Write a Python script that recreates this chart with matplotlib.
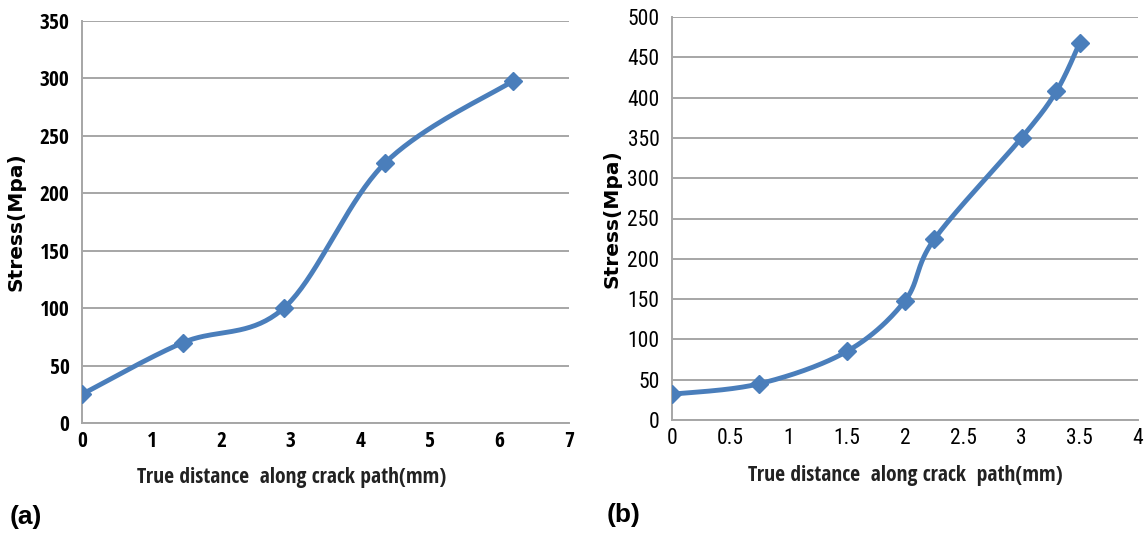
import numpy as np
import matplotlib
matplotlib.use("Agg")
import matplotlib.pyplot as plt

# Panel (a)
dist_a = [0.0, 1.45, 2.9, 4.35, 6.2]
stress_a = [25, 70, 100, 226, 298]
xticks_a = [0, 1, 2, 3, 4, 5, 6, 7]
yticks_a = [0, 50, 100, 150, 200, 250, 300, 350]

# Panel (b)
dist_b = [0.0, 0.75, 1.5, 2.0, 2.25, 3.0, 3.3, 3.5]
stress_b = [32, 45, 85, 148, 224, 350, 408, 468]
xticks_b = [0, 0.5, 1, 1.5, 2, 2.5, 3, 3.5, 4]
yticks_b = [0, 50, 100, 150, 200, 250, 300, 350, 400, 450, 500]

LINE = "#4A7EBB"
GRID = "#A6A6A6"
TICK_A = dict(fontfamily="Open Sans Condensed", fontweight="bold", fontsize=15.5)
TICK_B = dict(fontfamily="Roboto Condensed", fontweight="normal", fontsize=15.5)
XLAB = dict(fontfamily="Open Sans Condensed", fontweight="bold", fontsize=15.5, color="#222222")
YLAB = dict(fontfamily="DejaVu Sans", fontweight="bold", fontsize=14.5)


def smooth(x, y, n=40):
    """Cubic Bezier smoothing through every point (spreadsheet-style)."""
    p = np.column_stack([x, y]).astype(float)
    pts = [p[0]]
    for i in range(len(p) - 1):
        p0 = p[i - 1] if i > 0 else p[i]
        p1, p2 = p[i], p[i + 1]
        p3 = p[i + 2] if i + 2 < len(p) else p[i + 1]
        c1 = p1 + (p2 - p0) / 6.0
        c2 = p2 - (p3 - p1) / 6.0
        t = np.linspace(0, 1, n)[1:, None]
        seg = ((1 - t) ** 3) * p1 + 3 * ((1 - t) ** 2) * t * c1 + 3 * (1 - t) * t ** 2 * c2 + t ** 3 * p2
        pts.extend(seg)
    pts = np.array(pts)
    return pts[:, 0], pts[:, 1]


def panel(ax, xs, ys, xt, yt, tickfont, xlabel, xlab_pos, ylab_pos):
    sx, sy = smooth(xs, ys)
    ax.plot(sx, sy, color=LINE, lw=3.5, solid_capstyle="round", zorder=3)
    ax.plot(xs, ys, ls="none", marker="D", ms=9, color=LINE, zorder=4)
    ax.set_xlim(xt[0], xt[-1])
    ax.set_ylim(yt[0], yt[-1])
    ax.set_xticks(xt)
    ax.set_yticks(yt)
    ax.set_xticklabels([f"{v:g}" for v in xt], **tickfont)
    ax.set_yticklabels([f"{v:g}" for v in yt], **tickfont)
    ax.tick_params(axis="x", length=0, pad=6)
    ax.tick_params(axis="y", length=0, pad=9)
    ax.grid(axis="y", color=GRID, lw=1.4)
    ax.set_axisbelow(True)
    for s in ["top", "right"]:
        ax.spines[s].set_visible(False)
    for s in ["left", "bottom"]:
        ax.spines[s].set_color(GRID)
        ax.spines[s].set_linewidth(1.4)
    ax.set_xlabel(xlabel, **XLAB)
    ax.set_ylabel("Stress(Mpa)", **YLAB)
    ax.xaxis.set_label_coords(*xlab_pos)
    ax.yaxis.set_label_coords(*ylab_pos)


fig = plt.figure(figsize=(11.45, 5.33), dpi=100)
ax1 = fig.add_axes([82 / 1145, 1 - 423 / 533, (569 - 82) / 1145, (423 - 21) / 533])
ax2 = fig.add_axes([672 / 1145, 1 - 420 / 533, (1138 - 672) / 1145, (420 - 17) / 533])

panel(ax1, dist_a, stress_a, xticks_a, yticks_a, TICK_A,
      "True distance  along crack path(mm)", (0.43, -0.11), (-0.117, 0.5))
panel(ax2, dist_b, stress_b, xticks_b, yticks_b, TICK_B,
      "True distance  along crack  path(mm)", (0.5, -0.112), (-0.109, 0.5))

fig.text(10 / 1145, 1 - 524 / 533, "(a)", fontsize=19, fontweight="bold", fontfamily="Liberation Sans")
fig.text(607 / 1145, 1 - 522 / 533, "(b)", fontsize=19, fontweight="bold", fontfamily="Liberation Sans")

fig.savefig("out.png", dpi=100, facecolor="white")
